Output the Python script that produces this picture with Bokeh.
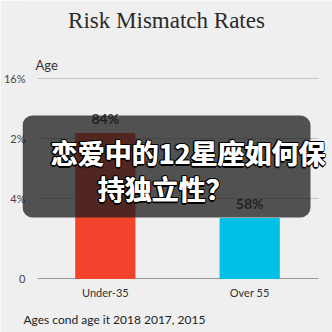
from bokeh.plotting import figure
from bokeh.models import Range1d, FactorRange, FixedTicker, Label, BoxAnnotation, Grid, ColumnDataSource
from bokeh.core.properties import value
from bokeh.embed import file_html
from bokeh.resources import INLINE

# --- data ---
categories = ["Under-35", "Over 55"]
bar_values = [72.5, 30]          # bar heights in axis units
bar_labels = ["84%", "58%"]
bar_colors = ["#f4432c", "#00c0e6"]
tick_positions = [0, 40, 70, 100]
tick_labels = ["0", "4%", "2%", "16%"]

title_text = "Risk Mismatch Rates"
axis_title = "Age"
footer_text = "Ages cond age it 2018 2017, 2015"
overlay_lines = ["恋爱中的12星座如何保", "持独立性？"]

BG = "#efefef"
SANS = "Lato"

p = figure(width=332, height=332,
           x_range=FactorRange(factors=categories, range_padding=0.074, range_padding_units="absolute"),
           y_range=Range1d(-27, 139),
           output_backend="svg", toolbar_location=None, x_axis_location=None,
           min_border_left=22, min_border_right=0, min_border_top=0, min_border_bottom=0)
p.background_fill_color = BG
p.border_fill_color = BG
p.outline_line_color = None

# grid lines (drawn first, under bars)
p.ygrid.grid_line_color = None
grid_kw = {}
if "cross_bounds" in Grid.properties():
    grid_kw["cross_bounds"] = (0.03, 1.977)
p.add_layout(Grid(dimension=1, ticker=FixedTicker(ticks=tick_positions[1:]),
                  grid_line_color="#c4c4c4", **grid_kw))
p.add_layout(Grid(dimension=1, ticker=FixedTicker(ticks=tick_positions[:1]),
                  grid_line_color="#9a9a9a", **grid_kw))

src = ColumnDataSource(dict(x=categories, top=bar_values, base=[0] * len(categories),
                            lab=bar_labels, color=bar_colors))
p.vbar(x="x", top="top", width=0.41, color="color", source=src)
p.text(x="x", y="top", text="lab", source=src, y_offset=-15,
       text_align="center", text_baseline="middle",
       text_font=value(SANS), text_font_size="14px", text_font_style="bold", text_color="#333333")
# category labels under the baseline
p.text(x="x", y="base", text="x", source=src, y_offset=14,
       text_align="center", text_baseline="middle",
       text_font=value(SANS), text_font_size="11px", text_color="#333333")

# y axis
p.yaxis.ticker = FixedTicker(ticks=tick_positions)
p.yaxis.major_label_overrides = {t: l for t, l in zip(tick_positions, tick_labels)}
p.yaxis.axis_line_color = None
p.yaxis.major_tick_line_color = None
p.yaxis.minor_tick_line_color = None
p.yaxis.major_tick_out = 0
p.yaxis.major_tick_in = 0
p.yaxis.minor_tick_out = 0
p.yaxis.major_label_standoff = -3
p.yaxis.major_label_text_font = SANS
p.yaxis.major_label_text_font_size = "11px"
p.yaxis.major_label_text_color = "#444444"
p.xgrid.grid_line_color = None

# texts (screen units, relative to frame bottom-left: frame is x 22..332, y 0..332)
p.add_layout(Label(x=144, y=312, x_units="screen", y_units="screen", text=title_text,
                   text_align="center", text_baseline="middle",
                   text_font="Liberation Serif", text_font_size="23px", text_color="#2a2a2a"))
p.add_layout(Label(x=13, y=268, x_units="screen", y_units="screen", text=axis_title,
                   text_align="left", text_baseline="middle",
                   text_font=SANS, text_font_size="13px", text_color="#333333"))
p.add_layout(Label(x=1, y=13, x_units="screen", y_units="screen", text=footer_text,
                   text_align="left", text_baseline="middle",
                   text_font=SANS, text_font_size="12px", text_color="#222222"))

# overlay box
p.add_layout(BoxAnnotation(left=0, right=288, bottom=115, top=217,
                           left_units="screen", right_units="screen",
                           bottom_units="screen", top_units="screen",
                           fill_color="#1c1c1c", fill_alpha=0.75, line_alpha=0,
                           border_radius=10))

for txt, lx, ly in [(overlay_lines[0], 28, 180), (overlay_lines[1], 75, 144)]:
    kw = dict(x_units="screen", y_units="screen", text=txt,
              text_align="left", text_baseline="middle",
              text_font="Noto Sans CJK SC", text_font_size="27px", text_font_style="bold")
    for dx, dy in [(-1.5, 0), (1.5, 0), (0, -1.5), (0, 1.5), (-1, -1), (1, 1), (-1, 1), (1, -1)]:
        p.add_layout(Label(x=lx + dx, y=ly + dy, text_color="black", **kw))
    p.add_layout(Label(x=lx, y=ly, text_color="white", **kw))
    p.add_layout(Label(x=lx + 0.6, y=ly, text_color="white", **kw))

open("out.html", "w").write(file_html(p, INLINE))
